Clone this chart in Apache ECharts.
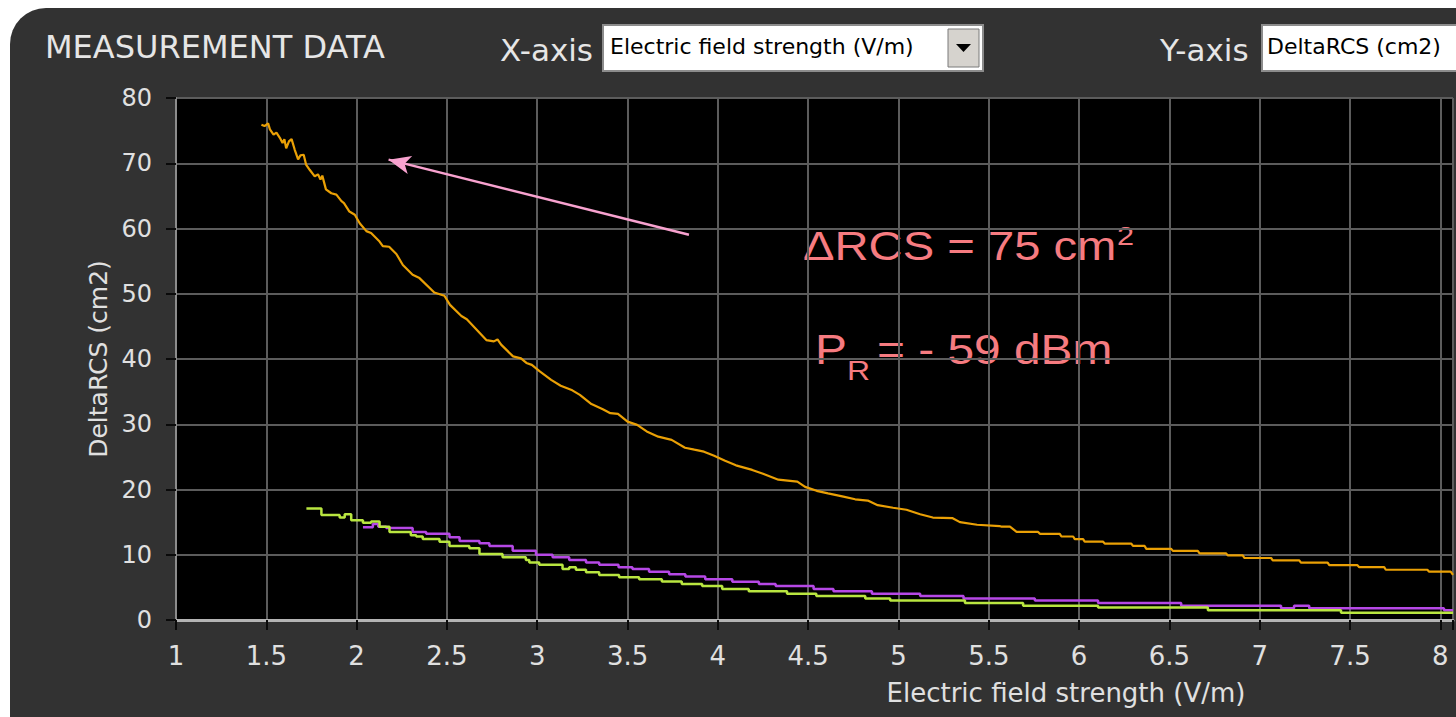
<!DOCTYPE html>
<html>
<head>
<meta charset="utf-8">
<title>Measurement data</title>
<script src="https://cdn.jsdelivr.net/npm/echarts@6/dist/echarts.min.js"></script>
<style>
  html, body { margin: 0; padding: 0; background: #fff; overflow: hidden; }
  .panel {
    position: absolute; left: 10px; top: 8px; width: 1460px; height: 720px;
    background: #323232; border-top-left-radius: 36px;
  }
  #chart { position: absolute; left: 0; top: 0; width: 1456px; height: 717px; }
</style>
</head>
<body>
<div class="panel"></div>
<div id="chart"></div>
<script>
// field strength (V/m) vs DeltaRCS (cm2)
const orangeTrace = [
  [1.473, 75.9], [1.49, 75.7], [1.51, 76.1], [1.52, 75.2], [1.54, 74.4], [1.556, 74.7], [1.575, 73.9],
  [1.59, 73.1], [1.60, 73.7], [1.61, 72.3], [1.626, 73.4], [1.64, 73.7], [1.657, 72.1], [1.676, 70.6],
  [1.689, 71.2], [1.707, 71.3], [1.72, 69.8], [1.74, 69.0], [1.768, 68.0], [1.786, 68.3], [1.80, 67.5],
  [1.81, 68.1], [1.83, 66.0], [1.86, 65.4], [1.888, 65.2], [1.916, 64.2], [1.93, 63.9], [1.96, 62.6],
  [1.99, 62.1], [2.017, 60.8], [2.054, 59.6], [2.08, 59.3], [2.127, 58.0], [2.145, 57.3], [2.18, 57.2],
  [2.22, 56.1], [2.256, 54.4], [2.31, 52.9], [2.348, 52.4], [2.43, 50.2], [2.486, 49.7], [2.517, 48.3],
  [2.58, 46.6], [2.61, 46.1], [2.718, 42.9], [2.76, 42.7], [2.78, 43.0], [2.80, 42.2], [2.866, 40.4],
  [2.91, 40.1], [2.94, 39.4], [2.97, 39.1], [3.014, 38.1], [3.077, 36.8], [3.13, 35.9], [3.194, 35.2],
  [3.236, 34.5], [3.30, 33.1], [3.363, 32.3], [3.405, 31.7], [3.447, 31.6], [3.50, 30.4], [3.553, 29.9],
  [3.606, 28.9], [3.67, 28.1], [3.744, 27.6], [3.818, 26.4], [3.87, 26.1], [3.923, 25.8], [3.976, 25.2],
  [4.04, 24.4], [4.10, 23.7], [4.19, 23.0], [4.25, 22.4], [4.335, 21.5], [4.44, 21.2], [4.483, 20.4],
  [4.547, 19.8], [4.61, 19.4], [4.695, 18.9], [4.76, 18.5], [4.83, 18.3], [4.885, 17.6], [4.97, 17.2],
  [5.044, 16.9], [5.12, 16.2], [5.19, 15.7], [5.30, 15.6], [5.34, 15.0], [5.435, 14.6], [5.56, 14.4],
  [5.571, 14.3], [5.617, 14.3], [5.654, 13.5], [5.773, 13.5], [5.783, 13.2], [5.893, 13.2], [5.902, 12.8],
  [5.967, 12.8], [5.976, 12.4], [6.022, 12.4], [6.031, 12.0], [6.133, 12.0], [6.142, 11.7], [6.289, 11.7],
  [6.298, 11.35], [6.363, 11.35], [6.372, 10.9], [6.51, 10.9], [6.519, 10.6], [6.657, 10.6], [6.667, 10.2],
  [6.814, 10.2], [6.823, 9.9], [6.906, 9.9], [6.915, 9.5], [7.063, 9.5], [7.072, 9.15], [7.219, 9.15],
  [7.228, 8.8], [7.376, 8.8], [7.385, 8.4], [7.541, 8.4], [7.551, 8.1], [7.689, 8.1], [7.698, 7.7],
  [7.928, 7.7], [7.938, 7.4], [8.057, 7.4], [8.07, 6.9]
]

// stepped traces: each value holds until the next x
const purpleTrace = [
  [2.035, 14.2], [2.09, 14.7], [2.12, 14.3], [2.164, 14.1], [2.31, 13.5], [2.385, 13.2], [2.514, 12.7],
  [2.57, 12.1], [2.68, 11.75], [2.735, 11.35], [2.864, 10.6], [2.993, 10.0], [3.085, 9.6], [3.177, 9.2],
  [3.27, 8.8], [3.343, 8.46], [3.45, 8.1], [3.527, 7.8], [3.619, 7.4], [3.73, 7.0], [3.82, 6.65],
  [3.93, 6.24], [4.08, 5.88], [4.227, 5.5], [4.32, 5.2], [4.53, 4.75], [4.64, 4.4], [4.853, 4.04],
  [5.12, 3.68], [5.36, 3.3], [5.755, 3.0], [6.105, 2.6], [6.565, 2.2], [7.118, 1.8], [7.19, 2.2],
  [7.274, 1.8], [8.02, 1.5], [8.07, 1.5]
]

const greenTrace = [
  [1.722, 17.1], [1.805, 16.1], [1.906, 15.7], [1.934, 16.2], [1.97, 15.3], [2.035, 14.9], [2.08, 15.1],
  [2.127, 14.3], [2.182, 13.5], [2.30, 13.0], [2.33, 12.8], [2.366, 12.4], [2.459, 12.0], [2.514, 11.35],
  [2.624, 11.0], [2.68, 10.1], [2.808, 9.6], [2.937, 9.2], [2.956, 8.8], [3.011, 8.46], [3.14, 7.8],
  [3.177, 8.1], [3.214, 7.7], [3.27, 7.3], [3.343, 6.9], [3.453, 6.55], [3.564, 6.24], [3.69, 5.9],
  [3.80, 5.5], [3.913, 5.2], [4.024, 4.75], [4.171, 4.4], [4.383, 4.04], [4.545, 3.68], [4.816, 3.3],
  [4.954, 2.97], [5.368, 2.6], [5.69, 2.2], [6.105, 1.9], [6.713, 1.5], [7.45, 1.1], [8.07, 1.1]
]

// pink arrow, in data coordinates (tail -> head)
const arrowTail = [3.84, 59.05]
const arrowHead = [2.177, 70.55]

const xRange = [1, 8.07]
const xStep = 0.5
const yRange = [0, 80]
const yStep = 10

const xAxisTitle = 'Electric field strength (V/m)'
const yAxisTitle = 'DeltaRCS (cm2)'

const uiFont = 'DejaVu Sans'
const noteFont = 'Liberation Sans'
const labelColor = '#e0e0e0'
const noteColor = '#f67b80'

const chart = echarts.init(document.getElementById('chart'), null, { renderer: 'svg' })

const isTick = (v) => Math.abs(v / xStep - Math.round(v / xStep)) < 1e-6

const headerText = (text, x, y, size, fill, extra) => ({
  type: 'text', x, y, silent: true,
  style: Object.assign({ text, fontFamily: uiFont, fontSize: size, fill, verticalAlign: 'middle' }, extra || {})
})

const noteText = (text, x, y, size, sx) => ({
  type: 'text', x, y, scaleX: sx, silent: true,
  style: { text, fontFamily: noteFont, fontSize: size, fill: noteColor, verticalAlign: 'middle' }
})

chart.setOption({
  animation: false,
  grid: { left: 176, right: 0, top: 98, bottom: 97, show: true, backgroundColor: '#000', borderWidth: 0 },
  xAxis: {
    type: 'value',
    min: xRange[0], max: xRange[1], interval: xStep,
    axisLine: { show: true, onZero: false, lineStyle: { color: '#b4b4b4', width: 3 } },
    axisTick: { show: true, length: 10, lineStyle: { color: '#0a0a0a', width: 2 } },
    axisLabel: {
      color: labelColor, fontFamily: uiFont, fontSize: 26, margin: 23,
      formatter: (v) => (isTick(v) ? String(+v.toFixed(2)) : '')
    },
    splitLine: { show: true, lineStyle: { color: '#5c5c5c', width: 2 } }
  },
  yAxis: {
    type: 'value',
    min: yRange[0], max: yRange[1], interval: yStep,
    name: yAxisTitle, nameLocation: 'middle', nameGap: 65,
    nameTextStyle: { color: labelColor, fontFamily: uiFont, fontSize: 25 },
    axisLine: { show: true, lineStyle: { color: '#8c8c8c', width: 2 } },
    axisTick: { show: true, length: 10, lineStyle: { color: '#0a0a0a', width: 2 } },
    axisLabel: { color: labelColor, fontFamily: uiFont, fontSize: 24, margin: 24 },
    splitLine: { show: true, lineStyle: { color: '#5c5c5c', width: 2 } }
  },
  series: [
    {
      name: 'orange', type: 'line', data: orangeTrace, showSymbol: false,
      lineStyle: { color: '#eaa005', width: 2.2 }, itemStyle: { color: '#eaa005' },
      markLine: {
        silent: true, symbol: ['none', 'arrow'], symbolSize: [14, 22],
        lineStyle: { color: '#f8a2cf', width: 2.5, type: 'solid' },
        label: { show: false },
        data: [[{ coord: arrowTail }, { coord: arrowHead }]]
      }
    },
    {
      name: 'purple', type: 'line', step: 'end', data: purpleTrace, showSymbol: false,
      lineStyle: { color: '#b648e6', width: 2.5 }, itemStyle: { color: '#b648e6' }
    },
    {
      name: 'green', type: 'line', step: 'end', data: greenTrace, showSymbol: false,
      lineStyle: { color: '#b9e640', width: 2.5 }, itemStyle: { color: '#b9e640' }
    }
  ],
  graphic: [
    headerText('MEASUREMENT DATA', 45, 47, 32, '#e6e6e6'),
    headerText('X-axis', 500, 50, 31, '#e6e6e6'),
    { type: 'rect', shape: { x: 603, y: 25, width: 380, height: 46 }, style: { fill: '#fff', stroke: '#8c8c8c', lineWidth: 2 }, silent: true },
    headerText(xAxisTitle, 610, 46, 22, '#000'),
    { type: 'rect', shape: { x: 948, y: 29, width: 31, height: 38 }, style: { fill: '#d6d3ce', stroke: '#7a7a7a', lineWidth: 1 }, silent: true },
    { type: 'polygon', shape: { points: [[956, 44], [971, 44], [963.5, 52]] }, style: { fill: '#000' }, silent: true },
    headerText('Y-axis', 1160, 50, 31, '#e6e6e6'),
    { type: 'rect', shape: { x: 1262, y: 25, width: 220, height: 46 }, style: { fill: '#fff', stroke: '#8c8c8c', lineWidth: 2 }, silent: true },
    headerText(yAxisTitle, 1267, 46, 22, '#000'),
    headerText(xAxisTitle, 1066, 693, 26, labelColor, { align: 'center' }),
    noteText('ΔRCS = 75 cm', 803, 246, 40, 1.18),
    noteText('2', 1117, 236, 26, 1.18),
    noteText('P', 815, 350, 42, 1.14),
    noteText('R', 847, 370, 28, 1.14),
    noteText('= - 59 dBm', 877, 350, 42, 1.14)
  ]
})
</script>
</body>
</html>
